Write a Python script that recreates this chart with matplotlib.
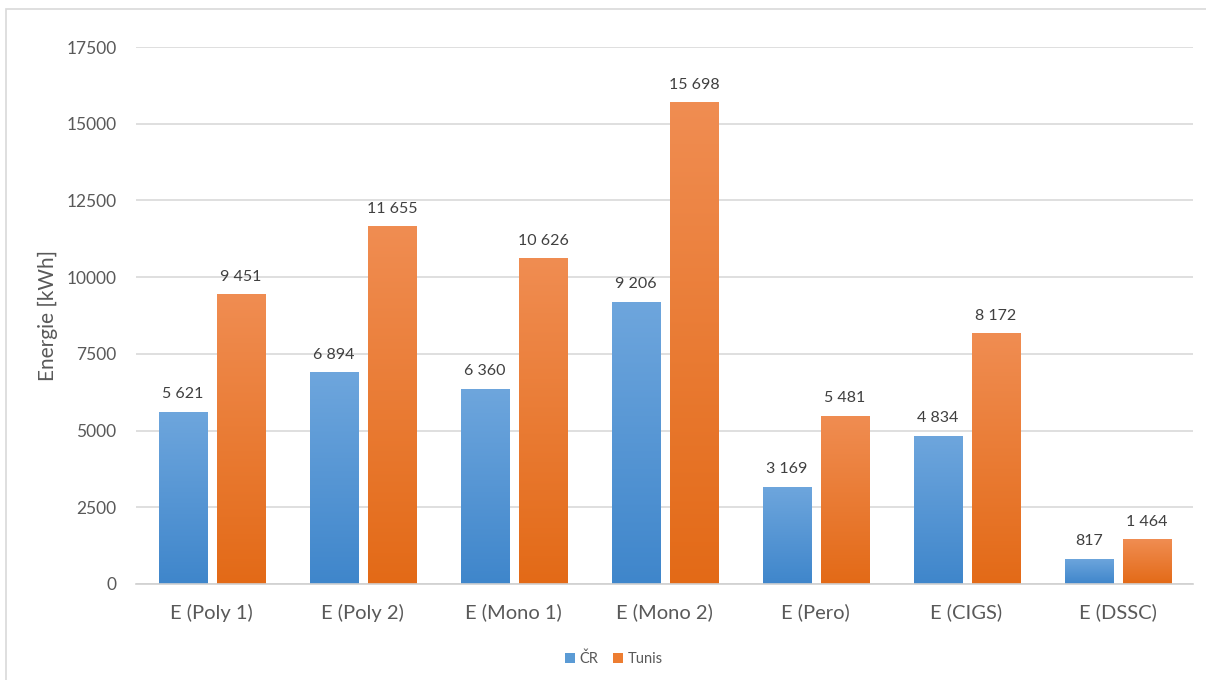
import numpy as np
import matplotlib
matplotlib.use("Agg")
import matplotlib.pyplot as plt
from matplotlib.patches import Rectangle
from matplotlib.colors import LinearSegmentedColormap

plt.rcParams["font.family"] = ["Lato", "DejaVu Sans"]

categories = ["E (Poly 1)", "E (Poly 2)", "E (Mono 1)", "E (Mono 2)",
              "E (Pero)", "E (CIGS)", "E (DSSC)"]
cr_values = [5621, 6894, 6360, 9206, 3169, 4834, 817]
tunis_values = [9451, 11655, 10626, 15698, 5481, 8172, 1464]
series_names = ["ČR", "Tunis"]
yticks = [0, 2500, 5000, 7500, 10000, 12500, 15000, 17500]

W, H = 1206, 680
fig = plt.figure(figsize=(W / 100, H / 100), dpi=100)

# chart frame
fig.patches.append(Rectangle((6 / W, -0.05), 1.2, 1 - 9 / H + 0.05,
                             transform=fig.transFigure, fill=False,
                             edgecolor="#D9D9D9", linewidth=1.2))

ax = fig.add_axes([136 / W, 1 - 584 / H, (1193 - 136) / W, (584 - 47) / H])
ax.set_xlim(-0.5, len(categories) - 0.5)
ax.set_ylim(0, 17500)

grads = {
    "ČR": ("#3F86CB", "#6EA6DD"),
    "Tunis": ("#E36A17", "#F08D52"),
}
bw = 0.318
offsets = [-0.19, 0.195]

def fmt(v):
    return f"{v:,}".replace(",", " ")

x = np.arange(len(categories))
for name, vals, off in zip(series_names, [cr_values, tunis_values], offsets):
    bottom_c, top_c = grads[name]
    cmap = LinearSegmentedColormap.from_list(name, [bottom_c, top_c])
    for xi, v in zip(x, vals):
        bars = ax.bar(xi + off, v, width=bw, color="none", edgecolor="none")
        patch = bars[0]
        # soft shadow on the right side
        ax.add_patch(Rectangle((xi + off - bw / 2 + 0.006, 0), bw, v - 40,
                               facecolor="#000000", alpha=0.10, edgecolor="none",
                               zorder=1.5))
        grad = np.linspace(0, 1, 256).reshape(-1, 1)
        im = ax.imshow(grad, cmap=cmap, origin="lower", aspect="auto",
                       extent=(xi + off - bw / 2, xi + off + bw / 2, 0, v),
                       zorder=2)
        im.set_clip_path(patch)
        ax.text(xi + off, v + 340, fmt(v), ha="center", va="bottom",
                fontsize=11.5, color="#404040")

ax.set_xlim(-0.5, len(categories) - 0.5)
ax.set_ylim(0, 17500)
ax.set_yticks(yticks)
ax.set_yticklabels([str(t) for t in yticks], fontsize=12.5, color="#595959")
ax.set_xticks(x)
ax.set_xticklabels(categories, fontsize=14.5, color="#595959")
ax.tick_params(axis="both", length=0)
ax.tick_params(axis="y", pad=14)
ax.tick_params(axis="x", pad=14)
ax.grid(axis="y", color="#D9D9D9", linewidth=1.2, zorder=0)
ax.set_axisbelow(True)
for s in ["top", "right", "left"]:
    ax.spines[s].set_visible(False)
ax.spines["bottom"].set_color("#D0D0D0")
ax.spines["bottom"].set_linewidth(1.2)
ax.set_ylabel("Energie [kWh]", fontsize=15, color="#595959", labelpad=6)

handles = [Rectangle((0, 0), 1, 1, facecolor="#5B9BD5"),
           Rectangle((0, 0), 1, 1, facecolor="#ED7D31")]
fig.legend(handles, series_names, loc="center", bbox_to_anchor=(614 / W, 1 - 659 / H),
           ncol=2, frameon=False, fontsize=10.5, handlelength=0.7, handleheight=0.7,
           handletextpad=0.3, columnspacing=1.0, labelcolor="#595959")

fig.savefig("out.png", dpi=100)
